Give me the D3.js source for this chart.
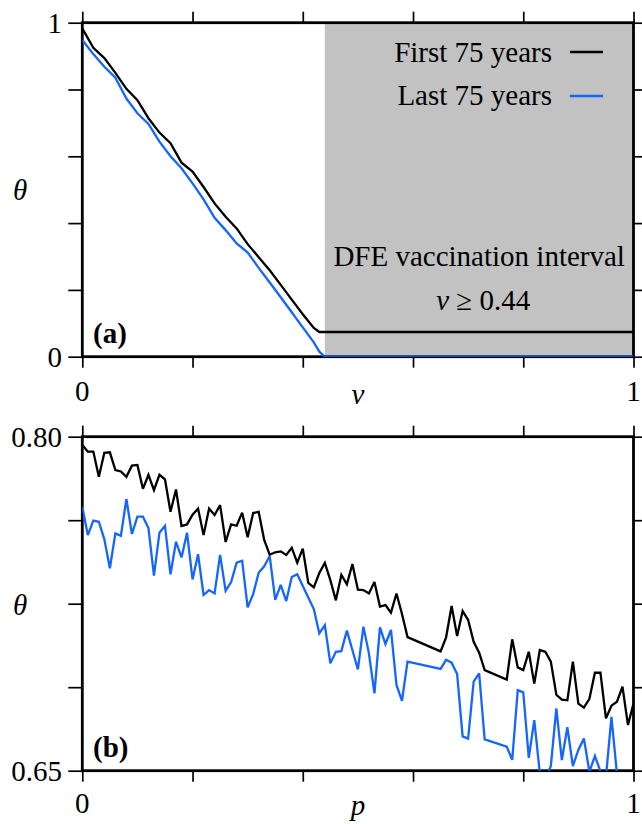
<!DOCTYPE html>
<html>
<head>
<meta charset="utf-8">
<script src="https://cdn.jsdelivr.net/npm/d3@7"></script>
<style>
  html, body { margin: 0; padding: 0; background: #fff; }
  svg { display: block; }
</style>
</head>
<body>
<svg id="chart" width="642" height="824"></svg>
<script>
// ---- Panel (a): theta against vaccination level v ----
const vGrid = [0, 0.02, 0.04, 0.06, 0.08, 0.10, 0.12, 0.14, 0.16, 0.18, 0.20, 0.22,
  0.24, 0.26, 0.28, 0.30, 0.32, 0.34, 0.36, 0.38, 0.40, 0.42, 0.43, 0.44,
  0.50, 0.60, 0.70, 0.80, 0.90, 1.00];
const thetaFirstV = [0.983, 0.925, 0.894, 0.850, 0.802, 0.768, 0.714, 0.671, 0.639, 0.581,
  0.554, 0.508, 0.459, 0.419, 0.384, 0.337, 0.298, 0.259, 0.215, 0.171, 0.127, 0.086,
  0.074, 0.074, 0.074, 0.074, 0.074, 0.074, 0.074, 0.074];
const thetaLastV = [0.948, 0.906, 0.868, 0.835, 0.773, 0.729, 0.697, 0.644, 0.600, 0.564,
  0.519, 0.471, 0.416, 0.379, 0.339, 0.312, 0.266, 0.222, 0.178, 0.133, 0.088, 0.043,
  0.015, 0, 0, 0, 0, 0, 0, 0];
const dfeThreshold = 0.44;

// ---- Panel (b): theta against p (null = no run at that p) ----
const pGrid = [0, 0.01, 0.02, 0.03, 0.04, 0.05, 0.06, 0.07, 0.08, 0.09,
  0.10, 0.11, 0.12, 0.13, 0.14, 0.15, 0.16, 0.17, 0.18, 0.19,
  0.20, 0.21, 0.22, 0.23, 0.24, 0.25, 0.26, 0.27, 0.28, 0.29,
  0.30, 0.31, 0.32, 0.33, 0.34, 0.35, 0.36, 0.37, 0.38, 0.39,
  0.40, 0.41, 0.42, 0.43, 0.44, 0.45, 0.46, 0.47, 0.48, 0.49,
  0.50, 0.51, 0.52, 0.53, 0.54, 0.55, 0.56, 0.57, 0.58, 0.59,
  0.60, 0.61, 0.62, 0.63, 0.64, 0.65, 0.66, 0.67, 0.68, 0.69,
  0.70, 0.71, 0.72, 0.73, 0.74, 0.75, 0.76, 0.77, 0.78, 0.79,
  0.80, 0.81, 0.82, 0.83, 0.84, 0.85, 0.86, 0.87, 0.88, 0.89,
  0.90, 0.91, 0.92, 0.93, 0.94, 0.95, 0.96, 0.97, 0.98, 0.99, 1.00];
const thetaFirstP = [
  0.7963, 0.7933, 0.7933, 0.7820, 0.7928, 0.7930, 0.7850, 0.7844, 0.7820, 0.7870,
  0.7873, 0.7766, 0.7829, 0.7760, 0.7829, 0.7808, 0.7663, 0.7763, 0.7599, 0.7606,
  0.7650, 0.7677, 0.7558, 0.7677, 0.7648, 0.7693, 0.7527, 0.7606, 0.7600, 0.7659,
  0.7548, 0.7657, 0.7662, 0.7536, 0.7470, 0.7481, 0.7485, 0.7469, 0.7501, 0.7434,
  0.7497, 0.7343, 0.7323, 0.7388, 0.7433, 0.7356, 0.7265, 0.7379, 0.7337, 0.7428,
  0.7313, 0.7311, 0.7296, 0.7347, 0.7237, 0.7244, 0.7210, 0.7296, 0.7204, 0.7100,
  null, null, null, null, null, 0.7036, 0.7099, 0.7240, 0.7105, 0.7217,
  0.7177, 0.7079, 0.7030, 0.6952, null, null, null, 0.6909, 0.7090, 0.6964,
  0.6952, 0.7034, 0.6891, 0.7042, 0.7034, 0.6990, 0.6841, 0.6819, 0.6816, 0.6990,
  0.6801, 0.6783, 0.6823, 0.6940, 0.6940, 0.6735, 0.6792, 0.6810, 0.6877, 0.6705,
  0.6802];
const thetaLastP = [
  0.7686, 0.7558, 0.7623, 0.7618, 0.7539, 0.7409, 0.7566, 0.7555, 0.7720, 0.7563,
  0.7641, 0.7641, 0.7590, 0.7376, 0.7569, 0.7600, 0.7382, 0.7528, 0.7458, 0.7569,
  0.7359, 0.7472, 0.7289, 0.7311, 0.7296, 0.7469, 0.7308, 0.7347, 0.7434, 0.7443,
  0.7234, 0.7293, 0.7389, 0.7418, 0.7464, 0.7267, 0.7335, 0.7262, 0.7370, 0.7382,
  0.7329, 0.7278, 0.7226, 0.7117, 0.7154, 0.6982, 0.7034, 0.7037, 0.7129, 0.7042,
  0.6955, 0.7147, 0.7027, 0.6847, 0.7144, 0.7069, 0.7132, 0.6885, 0.6814, 0.6990,
  null, null, null, null, null, 0.6957, 0.6998, 0.6985, 0.6934, 0.6654,
  0.6644, 0.6900, 0.6937, 0.6641, null, null, null, 0.6608, 0.6549, 0.6862,
  0.6852, 0.6558, 0.6727, 0.6490, 0.6460, 0.6521, 0.6780, 0.6548, 0.6695, 0.6521,
  0.6593, 0.6645, 0.6495, 0.6566, 0.6497, 0.6470, 0.6742, 0.6485, 0.6460, 0.6450,
  0.6440];

// ---- Ticks and labels ----
const xTicks = [0, 0.2, 0.4, 0.6, 0.8, 1];
const thetaTicksA = [0, 0.2, 0.4, 0.6, 0.8, 1];
const thetaTicksB = [0.65, 0.6875, 0.725, 0.7625, 0.80];
const xTickLabels = [[0, "0"], [1, "1"]];
const thetaLabelsA = [[0, "0"], [1, "1"]];
const thetaLabelsB = [[0.65, "0.65"], [0.80, "0.80"]];
const seriesNames = ["First 75 years", "Last 75 years"];
const seriesColors = ["#000000", "#1565ff"];

// ---- Layout ----
const SERIF = '"Liberation Serif", "Times New Roman", serif';
const svg = d3.select("#chart");
const left = 82.3, right = 633.5;
const panelA = { top: 22.7, bottom: 356.7 };
const panelB = { top: 436.7, bottom: 770.7 };
const FONT = 29;
const TICK = 11;

const xA = d3.scaleLinear().domain([0, 1]).range([left, right]);
const yA = d3.scaleLinear().domain([0, 1]).range([panelA.bottom, panelA.top]);
const xB = d3.scaleLinear().domain([0, 1]).range([left, right]);
const yB = d3.scaleLinear().domain([0.65, 0.80]).range([panelB.bottom, panelB.top]);

function addClip(id, x, y) {
  svg.append("clipPath").attr("id", id).append("rect")
    .attr("x", x.range()[0]).attr("y", y.range()[1])
    .attr("width", x.range()[1] - x.range()[0])
    .attr("height", y.range()[0] - y.range()[1]);
}
addClip("clipA", xA, yA);
addClip("clipB", xB, yB);

function styleTicks(g) {
  g.select(".domain").remove();
  g.selectAll(".tick line").attr("stroke", "#000").attr("stroke-width", 1.7);
  g.selectAll(".tick text").remove();
}

function drawFrame(x, y, yTicks) {
  const [x0, x1] = x.range();
  const [y0, y1] = y.range();
  svg.append("g").attr("transform", `translate(0,${y0})`)
    .call(d3.axisBottom(x).tickValues(xTicks).tickSize(TICK)).call(styleTicks);
  svg.append("g").attr("transform", `translate(0,${y1})`)
    .call(d3.axisTop(x).tickValues(xTicks).tickSize(TICK)).call(styleTicks);
  svg.append("g").attr("transform", `translate(${x0},0)`)
    .call(d3.axisLeft(y).tickValues(yTicks).tickSize(TICK + 3)).call(styleTicks);
  svg.append("g").attr("transform", `translate(${x1},0)`)
    .call(d3.axisRight(y).tickValues(yTicks).tickSize(TICK)).call(styleTicks);
  svg.append("rect")
    .attr("x", x0).attr("y", y1).attr("width", x1 - x0).attr("height", y0 - y1)
    .attr("fill", "none").attr("stroke", "#000").attr("stroke-width", 2.8);
}

function drawSeries(x, y, xs, ys, color, clipId) {
  const pts = xs.map((d, i) => [d, ys[i]]).filter(d => d[1] !== null);
  const line = d3.line().x(d => x(d[0])).y(d => y(d[1]));
  svg.append("path").datum(pts)
    .attr("clip-path", `url(#${clipId})`)
    .attr("d", line).attr("fill", "none")
    .attr("stroke", color).attr("stroke-width", 2.3)
    .attr("stroke-linejoin", "miter").attr("stroke-miterlimit", 3);
}

function text(x, y, str, opts = {}) {
  const t = svg.append("text").attr("x", x).attr("y", y)
    .style("font-family", SERIF)
    .style("font-size", (opts.size || FONT) + "px")
    .attr("text-anchor", opts.anchor || "middle")
    .attr("fill", "#000");
  if (opts.italic) t.style("font-style", "italic");
  if (opts.bold) t.style("font-weight", "bold");
  t.text(str);
  return t;
}

// ---- Panel (a) ----
svg.append("rect")
  .attr("x", xA(dfeThreshold)).attr("y", yA(1))
  .attr("width", xA(1) - xA(dfeThreshold)).attr("height", yA(0) - yA(1))
  .attr("fill", "#c2c2c2");
drawFrame(xA, yA, thetaTicksA);
drawSeries(xA, yA, vGrid, thetaFirstV, seriesColors[0], "clipA");
drawSeries(xA, yA, vGrid, thetaLastV, seriesColors[1], "clipA");

thetaLabelsA.forEach(([v, s]) => text(62, yA(v) + 10, s, { anchor: "end" }));
xTickLabels.forEach(([v, s]) => text(xA(v), 401, s));
text((left + right) / 2, 404, "v", { italic: true });
text(20, 200, "θ", { italic: true });
text(93, 343, "(a)", { anchor: "start", bold: true });

// legend
const legendRows = [{ y: 62, line: 52 }, { y: 105, line: 96 }];
seriesNames.forEach((name, i) => {
  text(552, legendRows[i].y, name, { anchor: "end" });
  svg.append("line")
    .attr("x1", 570).attr("x2", 603)
    .attr("y1", legendRows[i].line).attr("y2", legendRows[i].line)
    .attr("stroke", seriesColors[i]).attr("stroke-width", 2.3);
});

// DFE annotation
const dfeCenter = (xA(dfeThreshold) + xA(1)) / 2;
text(dfeCenter, 266, "DFE vaccination interval");
const ann = svg.append("text").attr("x", dfeCenter + 4).attr("y", 310)
  .style("font-family", SERIF).style("font-size", FONT + "px")
  .attr("text-anchor", "middle");
ann.append("tspan").style("font-style", "italic").text("v");
ann.append("tspan").text(" ≥ " + dfeThreshold.toFixed(2));

// ---- Panel (b) ----
drawFrame(xB, yB, thetaTicksB);
drawSeries(xB, yB, pGrid, thetaFirstP, seriesColors[0], "clipB");
drawSeries(xB, yB, pGrid, thetaLastP, seriesColors[1], "clipB");

thetaLabelsB.forEach(([v, s]) => text(62, yB(v) + 10, s, { anchor: "end" }));
xTickLabels.forEach(([v, s]) => text(xB(v), 813, s));
text((left + right) / 2, 815, "p", { italic: true });
text(20, 615, "θ", { italic: true });
text(93, 757, "(b)", { anchor: "start", bold: true });
</script>
</body>
</html>
